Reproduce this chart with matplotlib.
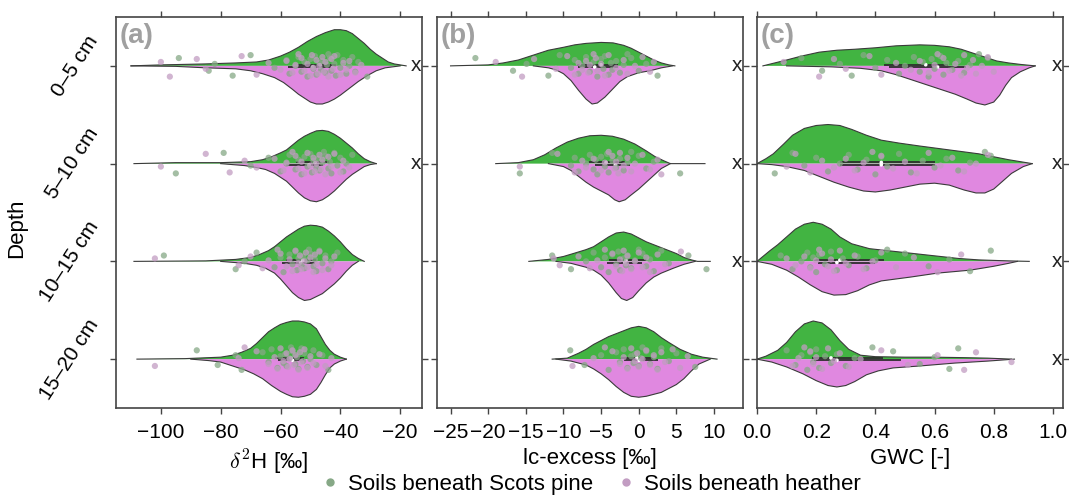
import numpy as np
import matplotlib
matplotlib.use('Agg')
import matplotlib.pyplot as plt
import matplotlib.transforms as mtransforms
from matplotlib.lines import Line2D

plt.rcParams['font.family'] = ['Liberation Sans', 'DejaVu Sans']
plt.rcParams['mathtext.fontset'] = 'cm'

DEPTHS = ['0–5 cm', '5–10 cm', '10–15 cm', '15–20 cm']

# half-violin outlines: (value, half width) pairs, one list per depth
D2H_PINE = [
  [(-110, 0), (-100, 0.01), (-85, 0.02), (-75, 0.03), (-68, 0.04), (-64, 0.06), (-60, 0.1), (-57, 0.14),
   (-54, 0.19), (-51, 0.25), (-48, 0.3), (-45, 0.34), (-42, 0.37), (-40, 0.37), (-38, 0.36), (-36, 0.33),
   (-34, 0.28), (-32, 0.23), (-30, 0.17), (-28, 0.12), (-26, 0.08), (-24, 0.04), (-22, 0.02), (-18, 0)],
  [(-109, 0), (-95, 0.01), (-80, 0.01), (-70, 0.02), (-66, 0.04), (-63, 0.07), (-60, 0.11), (-58, 0.14),
   (-56, 0.19), (-54, 0.24), (-52, 0.28), (-50, 0.31), (-48, 0.335), (-46, 0.34), (-44, 0.33), (-42, 0.3),
   (-40, 0.26), (-38, 0.21), (-36, 0.16), (-34, 0.1), (-32, 0.05), (-30, 0.02), (-28, 0)],
  [(-109, 0), (-85, 0.005), (-75, 0.02), (-70, 0.04), (-67, 0.07), (-64, 0.11), (-62, 0.15), (-60, 0.2),
   (-58, 0.25), (-56, 0.29), (-54, 0.33), (-52, 0.36), (-50, 0.37), (-48, 0.365), (-46, 0.35), (-44, 0.31),
   (-42, 0.26), (-40, 0.2), (-38, 0.13), (-36, 0.07), (-34, 0.03), (-32, 0)],
  [(-108, 0), (-92, 0.005), (-80, 0.02), (-76, 0.04), (-73, 0.07), (-70, 0.11), (-68, 0.16), (-66, 0.22),
   (-64, 0.28), (-62, 0.32), (-60, 0.355), (-58, 0.375), (-56, 0.39), (-54, 0.39), (-52, 0.38), (-50, 0.36),
   (-48, 0.31), (-46.5, 0.23), (-45, 0.15), (-43.5, 0.09), (-42, 0.05), (-40, 0.02), (-38, 0)],
]
D2H_HEATHER = [
  [(-110, 0), (-95, 0.005), (-85, 0.02), (-75, 0.03), (-70, 0.05), (-66, 0.08), (-62, 0.12), (-59, 0.17),
   (-56, 0.24), (-54, 0.29), (-52, 0.33), (-50, 0.37), (-48, 0.39), (-46, 0.39), (-44, 0.37), (-42, 0.34),
   (-40, 0.3), (-37, 0.23), (-34, 0.16), (-31, 0.1), (-28, 0.05), (-25, 0.02), (-20, 0)],
  [(-80, 0), (-72, 0.02), (-68, 0.04), (-65, 0.06), (-62, 0.1), (-60, 0.14), (-58, 0.18), (-56, 0.24),
   (-54, 0.3), (-52, 0.35), (-50, 0.38), (-48, 0.39), (-46, 0.37), (-44, 0.33), (-42, 0.28), (-40, 0.22),
   (-38, 0.16), (-36, 0.11), (-34, 0.07), (-32, 0.03), (-30, 0.01), (-28, 0)],
  [(-80, 0), (-72, 0.02), (-68, 0.04), (-65, 0.07), (-62, 0.12), (-60, 0.18), (-58, 0.25), (-56, 0.32),
   (-54, 0.37), (-52, 0.4), (-50, 0.39), (-48, 0.36), (-46, 0.33), (-44, 0.28), (-42, 0.23), (-40, 0.17),
   (-38, 0.1), (-36, 0.04), (-34, 0)],
  [(-90, 0), (-84, 0.015), (-80, 0.03), (-76, 0.07), (-72, 0.11), (-69, 0.15), (-66, 0.2), (-63, 0.27),
   (-60, 0.33), (-58, 0.36), (-56, 0.385), (-54, 0.39), (-52, 0.38), (-50, 0.36), (-48, 0.31), (-46.5, 0.24),
   (-45, 0.16), (-43.5, 0.09), (-42, 0.05), (-40, 0.02), (-38, 0)],
]
LC_PINE = [
  [(-25, 0), (-20, 0.01), (-18, 0.03), (-16, 0.06), (-14, 0.11), (-12, 0.16), (-10, 0.19), (-8.5, 0.215),
   (-7, 0.23), (-5, 0.24), (-3.4, 0.235), (-2, 0.21), (-1, 0.18), (0, 0.14), (1, 0.1), (2, 0.06),
   (3, 0.03), (4, 0.01), (4.8, 0)],
  [(-19, 0), (-16, 0.01), (-14, 0.04), (-12.5, 0.09), (-11, 0.16), (-9.5, 0.22), (-8, 0.26), (-6.5, 0.285),
   (-5, 0.29), (-3.5, 0.28), (-2, 0.25), (-0.5, 0.2), (1, 0.13), (2.2, 0.07), (3.3, 0.03), (4.2, 0), (8.8, 0)],
  [(-14.6, 0), (-12, 0.02), (-10, 0.05), (-8.7, 0.08), (-7, 0.12), (-6, 0.15), (-5, 0.2), (-4, 0.25),
   (-3, 0.29), (-2, 0.3), (-1, 0.28), (0, 0.24), (1, 0.2), (2, 0.17), (3, 0.14), (4, 0.11), (5, 0.08),
   (6, 0.04), (7, 0.015), (7.8, 0), (9.5, 0)],
  [(-11.5, 0), (-9.5, 0.01), (-8, 0.06), (-7, 0.1), (-6, 0.15), (-5, 0.19), (-4, 0.23), (-3, 0.26),
   (-2, 0.29), (-1, 0.32), (0, 0.335), (1, 0.32), (2, 0.28), (3, 0.22), (4, 0.17), (5.5, 0.1),
   (7, 0.05), (8.5, 0.02), (10.4, 0)],
]
LC_HEATHER = [
  [(-14, 0), (-12, 0.02), (-11, 0.04), (-10, 0.08), (-9, 0.15), (-8, 0.25), (-7, 0.34), (-6.2, 0.39),
   (-5.5, 0.38), (-4.5, 0.32), (-3.5, 0.24), (-2.5, 0.16), (-1.5, 0.11), (0, 0.07), (1.5, 0.05),
   (3, 0.02), (4.5, 0)],
  [(-12, 0), (-10, 0.03), (-9, 0.07), (-8, 0.13), (-7, 0.19), (-6, 0.24), (-5, 0.28), (-4, 0.32),
   (-3.2, 0.37), (-2.6, 0.39), (-1.8, 0.37), (-1, 0.32), (0, 0.26), (1, 0.19), (2, 0.12), (3, 0.05),
   (4.2, 0)],
  [(-11, 0), (-9, 0.02), (-7, 0.06), (-6, 0.09), (-5, 0.14), (-4, 0.22), (-3, 0.32), (-2.3, 0.38),
   (-1.6, 0.4), (-0.8, 0.37), (0, 0.3), (1, 0.22), (2, 0.16), (3, 0.12), (4.6, 0.07), (6, 0.03),
   (7.5, 0)],
  [(-11, 0), (-9, 0.02), (-7, 0.06), (-6, 0.1), (-5, 0.15), (-4, 0.21), (-3, 0.28), (-2, 0.34),
   (-1, 0.38), (0, 0.39), (1, 0.38), (2, 0.36), (3, 0.34), (4, 0.3), (5, 0.26), (6, 0.2), (7, 0.12),
   (8, 0.05), (9.5, 0)],
]
GWC_PINE = [
  [(0.02, 0), (0.06, 0.03), (0.1, 0.06), (0.15, 0.1), (0.21, 0.14), (0.27, 0.16), (0.33, 0.17),
   (0.4, 0.185), (0.47, 0.205), (0.55, 0.215), (0.6, 0.21), (0.65, 0.195), (0.69, 0.17), (0.72, 0.14),
   (0.75, 0.11), (0.78, 0.08), (0.81, 0.05), (0.85, 0.03), (0.89, 0.015), (0.94, 0)],
  [(0.0, 0), (0.03, 0.05), (0.055, 0.1), (0.09, 0.2), (0.12, 0.29), (0.16, 0.36), (0.2, 0.39),
   (0.24, 0.4), (0.28, 0.39), (0.32, 0.35), (0.37, 0.29), (0.42, 0.24), (0.48, 0.21), (0.55, 0.18),
   (0.65, 0.14), (0.75, 0.1), (0.8, 0.07), (0.85, 0.04), (0.89, 0.02), (0.93, 0)],
  [(0.0, 0), (0.02, 0.05), (0.044, 0.11), (0.07, 0.17), (0.1, 0.25), (0.13, 0.33), (0.16, 0.38),
   (0.19, 0.4), (0.22, 0.38), (0.25, 0.33), (0.28, 0.25), (0.32, 0.18), (0.38, 0.13), (0.44, 0.11),
   (0.5, 0.09), (0.56, 0.07), (0.62, 0.05), (0.68, 0.03), (0.75, 0.015), (0.85, 0.005), (0.92, 0)],
  [(0.0, 0), (0.03, 0.03), (0.07, 0.09), (0.1, 0.17), (0.13, 0.28), (0.16, 0.36), (0.19, 0.39),
   (0.22, 0.37), (0.25, 0.3), (0.28, 0.19), (0.31, 0.1), (0.35, 0.04), (0.4, 0.025), (0.5, 0.02),
   (0.6, 0.02), (0.7, 0.015), (0.78, 0.01), (0.86, 0)],
]
GWC_HEATHER = [
  [(0.1, 0), (0.25, 0.01), (0.35, 0.025), (0.42, 0.05), (0.47, 0.09), (0.52, 0.14), (0.57, 0.19),
   (0.62, 0.24), (0.67, 0.29), (0.71, 0.34), (0.74, 0.38), (0.77, 0.4), (0.8, 0.37), (0.82, 0.3),
   (0.84, 0.2), (0.86, 0.12), (0.89, 0.06), (0.92, 0.02), (0.94, 0)],
  [(0.0, 0), (0.05, 0.01), (0.1, 0.03), (0.16, 0.07), (0.21, 0.13), (0.26, 0.19), (0.31, 0.24),
   (0.36, 0.28), (0.4, 0.29), (0.45, 0.27), (0.5, 0.24), (0.55, 0.21), (0.6, 0.2), (0.65, 0.22),
   (0.7, 0.27), (0.74, 0.3), (0.77, 0.3), (0.8, 0.26), (0.83, 0.18), (0.86, 0.1), (0.9, 0.03), (0.93, 0)],
  [(0.0, 0), (0.05, 0.03), (0.1, 0.09), (0.14, 0.16), (0.18, 0.24), (0.22, 0.31), (0.26, 0.345),
   (0.3, 0.34), (0.34, 0.3), (0.38, 0.24), (0.42, 0.2), (0.47, 0.18), (0.52, 0.16), (0.61, 0.12),
   (0.72, 0.09), (0.8, 0.05), (0.85, 0.02), (0.88, 0)],
  [(0.0, 0), (0.05, 0.03), (0.1, 0.08), (0.155, 0.15), (0.2, 0.22), (0.24, 0.27), (0.27, 0.285),
   (0.3, 0.27), (0.33, 0.23), (0.37, 0.16), (0.41, 0.12), (0.46, 0.09), (0.55, 0.07), (0.67, 0.04),
   (0.78, 0.02), (0.87, 0)],
]

# individual samples per depth
D2H_PINE_PTS = [
  [-94, -84, -82, -76, -70, -62, -58, -57, -55, -54, -53, -52, -51, -50, -49, -48.5, -48, -47, -46.5, -46, -45,
   -44.5, -44, -43.5, -43, -42, -41.5, -41, -40, -39, -38, -37, -36, -35, -34, -31],
  [-95, -79, -70, -64, -60, -58, -57, -55, -54, -53, -52, -51, -50, -49.5, -49, -48, -47.5, -47, -46, -45.5, -45,
   -44, -43.5, -43, -42, -41, -40, -39, -38, -36],
  [-99, -75, -72, -68, -62, -60, -59, -57, -56, -55, -54.5, -54, -53, -52.5, -52, -51, -50.5, -50, -49, -48.5,
   -48, -47, -46, -45, -44, -43, -41],
  [-88, -81, -75, -73, -66, -64, -63, -61, -60, -59, -58.5, -58, -57, -56.5, -56, -55, -54.5, -54, -53, -52.5,
   -52, -51, -50, -49, -48, -46, -44],
]
D2H_HEATHER_PTS = [
  [-100, -97, -88, -85, -73, -68, -64, -60, -58, -56, -55, -54, -53, -52, -51, -50, -49.5, -49, -48, -47.5, -47,
   -46, -45.5, -45, -44, -43, -42.5, -42, -40, -39, -38, -37, -35, -33],
  [-100, -85, -77, -72, -68, -62, -59, -58, -56, -55, -54, -53, -52, -51, -50, -49, -48.5, -48, -47, -46.5,
   -46, -45, -44, -43, -42, -40, -39, -37],
  [-102, -74, -70, -66, -64, -61, -60, -58, -57, -56, -55, -54, -53.5, -53, -52, -51.5, -51, -50, -49, -48.5,
   -48, -47, -46, -45, -43, -42],
  [-102, -74, -72, -68, -64, -62, -61, -60, -59, -58, -57.5, -57, -56, -55.5, -55, -54, -53.5, -53, -52, -51,
   -50, -49, -47, -45, -43],
]
LC_PINE_PTS = [
  [-21.7, -16.7, -14.9, -12, -10.5, -9, -8.5, -8, -7.5, -7, -6.5, -6, -5.5, -5, -4.7, -4.5, -4, -3.7, -3.5,
   -3, -2.5, -2, -1.5, -1, 0, 1, 2.5],
  [-15.8, -11.5, -9, -8.5, -8, -7, -6.5, -6, -5.7, -5.5, -5, -4.5, -4.2, -4, -3.5, -3, -2.5, -2, -1.5,
   -1, 0, 1, 2, 5.5],
  [-11.5, -9, -7, -6, -5, -4.5, -4, -3.5, -3, -2.7, -2.5, -2, -1.7, -1.5, -1, -0.5, 0, 0.5, 1, 1.5, 2,
   3, 4, 6.6, 9],
  [-9.1, -7.2, -5, -4, -3, -2.5, -2, -1.5, -1, -0.7, -0.5, 0, 0.3, 0.5, 1, 1.5, 2, 2.5, 3, 4, 5, 7.5],
]
LC_HEATHER_PTS = [
  [-19, -15.5, -13.9, -11, -9.5, -8.5, -8, -7.5, -7, -6.7, -6.5, -6, -5.7, -5.5, -5, -4.5, -4, -3, -2,
   -1.5, -0.5, 0.5, 1.5, 2],
  [-15.8, -10.8, -8.5, -7.5, -7, -6, -5, -4.5, -4, -3.5, -3.2, -3, -2.7, -2.5, -2, -1.5, -1, -0.5, 0.5,
   1.5, 2.5, 3],
  [-11.3, -10.5, -8, -6.5, -5.5, -4.5, -3.5, -3, -2.5, -2.2, -2, -1.7, -1.5, -1, -0.5, 0, 0.5, 1, 1.5,
   2.5, 3.5, 5.6],
  [-8.8, -6, -4.5, -3.5, -2.5, -2, -1.5, -1, -0.5, -0.2, 0, 0.5, 1, 1.5, 2, 2.5, 3, 3.5, 4.5, 5.5, 6.5],
]
GWC_PINE_PTS = [
  [0.15, 0.22, 0.28, 0.32, 0.36, 0.4, 0.44, 0.48, 0.5, 0.53, 0.55, 0.56, 0.58, 0.59, 0.6, 0.62, 0.63, 0.64,
   0.66, 0.68, 0.7, 0.72, 0.75, 0.78],
  [0.06, 0.12, 0.16, 0.2, 0.24, 0.28, 0.31, 0.34, 0.37, 0.4, 0.42, 0.44, 0.48, 0.52, 0.56, 0.6, 0.64, 0.68,
   0.72, 0.77, 0.79],
  [0.08, 0.12, 0.15, 0.17, 0.18, 0.19, 0.2, 0.21, 0.23, 0.25, 0.27, 0.29, 0.31, 0.34, 0.37, 0.4, 0.44, 0.5,
   0.58, 0.65, 0.72, 0.79],
  [0.1, 0.13, 0.15, 0.17, 0.18, 0.19, 0.2, 0.21, 0.23, 0.25, 0.27, 0.3, 0.33, 0.39, 0.46, 0.55, 0.6, 0.65, 0.68],
]
GWC_HEATHER_PTS = [
  [0.09, 0.21, 0.26, 0.3, 0.38, 0.42, 0.47, 0.52, 0.55, 0.58, 0.6, 0.61, 0.63, 0.65, 0.67, 0.69, 0.7, 0.71,
   0.73, 0.74, 0.76, 0.78, 0.8],
  [0.1, 0.13, 0.18, 0.22, 0.26, 0.3, 0.33, 0.36, 0.39, 0.42, 0.46, 0.5, 0.54, 0.58, 0.62, 0.66, 0.7, 0.74, 0.78],
  [0.1, 0.13, 0.16, 0.18, 0.2, 0.21, 0.22, 0.24, 0.25, 0.26, 0.28, 0.3, 0.33, 0.36, 0.39, 0.42, 0.47, 0.53,
   0.61, 0.69],
  [0.12, 0.14, 0.16, 0.18, 0.19, 0.2, 0.22, 0.24, 0.26, 0.28, 0.31, 0.35, 0.42, 0.51, 0.61, 0.7, 0.74, 0.86],
]

# vertical scatter of the sample points around each depth line
JITTER = [0.08, -0.05, 0.02, -0.1, 0.11, -0.02, 0.06, -0.08, 0.0, 0.09, -0.06, 0.04,
          -0.11, 0.07, -0.03, 0.1, -0.09, 0.03, -0.04, 0.05, -0.07, 0.01, 0.12]

# rows flagged with an "x" on the right edge
FLAGS = [[0, 1], [0, 1, 2], [0, 1, 2, 3]]

PINE = '#42b442'
HEATHER = '#e088e0'
PINE_PT = '#86a886'
HEATHER_PT = '#c29cc2'
EDGE = '#3a3a3a'


def half_violin(ax, pos, prof, up, color):
  x = np.array([p[0] for p in prof])
  h = np.array([p[1] for p in prof])
  y = pos + h if up else pos - h
  ax.fill_between(x, pos, y, facecolor=color, edgecolor='none', zorder=2)
  ax.plot(x, y, color=EDGE, lw=0.8, zorder=3)


def inner_box(ax, pos, vals, dy):
  # thin interquartile bar with a white median dot
  q1, med, q3 = np.percentile(vals, [25, 50, 75])
  ax.plot([q1, q3], [pos + dy, pos + dy], color='#2e2e2e', lw=1.3, zorder=3.5,
          solid_capstyle='butt')
  ax.scatter([med], [pos + dy], s=7, color='white', zorder=3.6, edgecolors='none')


def jittered(ax, pos, vals, color, shift):
  offs = [JITTER[(k + shift) % len(JITTER)] for k in range(len(vals))]
  ax.scatter(vals, [pos + o for o in offs], s=20, color=color, alpha=0.75,
             edgecolors='none', zorder=4)


panels = [
  (D2H_PINE, D2H_HEATHER, D2H_PINE_PTS, D2H_HEATHER_PTS, (-115, -12.7),
   [-100, -80, -60, -40, -20], r'$\delta^2$H [‰]', '(a)'),
  (LC_PINE, LC_HEATHER, LC_PINE_PTS, LC_HEATHER_PTS, (-26.8, 13.85),
   [-25, -20, -15, -10, -5, 0, 5, 10], 'lc-excess [‰]', '(b)'),
  (GWC_PINE, GWC_HEATHER, GWC_PINE_PTS, GWC_HEATHER_PTS, (0, 1.034),
   [0.0, 0.2, 0.4, 0.6, 0.8, 1.0], 'GWC [-]', '(c)'),
]

fig = plt.figure(figsize=(10.69, 4.97), dpi=100)
lefts = [116, 437, 757]
positions = [4, 3, 2, 1]

for p, (pine, heather, pine_pts, heather_pts, xlim, xticks, xlabel, tag) in enumerate(panels):
  ax = fig.add_axes([lefts[p] / 1069, 89 / 497, 306 / 1069, 391 / 497])
  for i, pos in enumerate(positions):
    half_violin(ax, pos, pine[i], True, PINE)
    half_violin(ax, pos, heather[i], False, HEATHER)
    inner_box(ax, pos, pine_pts[i], 0.012)
    inner_box(ax, pos, heather_pts[i], -0.012)
    jittered(ax, pos, pine_pts[i], PINE_PT, 3 * i)
    jittered(ax, pos, heather_pts[i], HEATHER_PT, 3 * i + 11)
  trans = mtransforms.blended_transform_factory(ax.transAxes, ax.transData)
  for i in FLAGS[p]:
    ax.text(0.997, positions[i], 'x', transform=trans, ha='right', va='center',
            fontsize=15, color='#222222')
  ax.text(0.012, 0.985, tag, transform=ax.transAxes, ha='left', va='top',
          fontsize=20, fontweight='bold', color='#a0a0a0')

  ax.set_xlim(*xlim)
  ax.set_ylim(0.5, 4.5)
  ax.set_xticks(xticks)
  if p == 2:
    ax.set_xticklabels([f'{t:.1f}' for t in xticks])
  ax.set_yticks(positions)
  if p == 0:
    ax.set_yticklabels(DEPTHS, rotation=57, ha='right', va='center')
    ax.set_ylabel('Depth', fontsize=16)
    ax.yaxis.set_label_coords(-0.29, 0.46)
  else:
    ax.set_yticklabels([])
  ax.set_xlabel(xlabel, fontsize=16, labelpad=4)
  ax.tick_params(direction='out', top=True, right=True, length=4, width=1,
                 color='#444444', labelsize=15)
  ax.tick_params(axis='x', pad=7)
  ax.tick_params(axis='y', pad=6)
  for s in ax.spines.values():
    s.set_color('#444444')
    s.set_linewidth(1.2)

handles = [
  Line2D([], [], marker='o', ls='none', color=PINE_PT, markersize=5),
  Line2D([], [], marker='o', ls='none', color=HEATHER_PT, markersize=5),
]
fig.legend(handles, ['Soils beneath Scots pine', 'Soils beneath heather'], ncol=2,
           loc='center', bbox_to_anchor=(590 / 1069, 0.026), frameon=False,
           fontsize=16, handletextpad=0.3, columnspacing=1.0, handlelength=1.0,
           borderpad=0)

fig.savefig('out.png', dpi=100)
